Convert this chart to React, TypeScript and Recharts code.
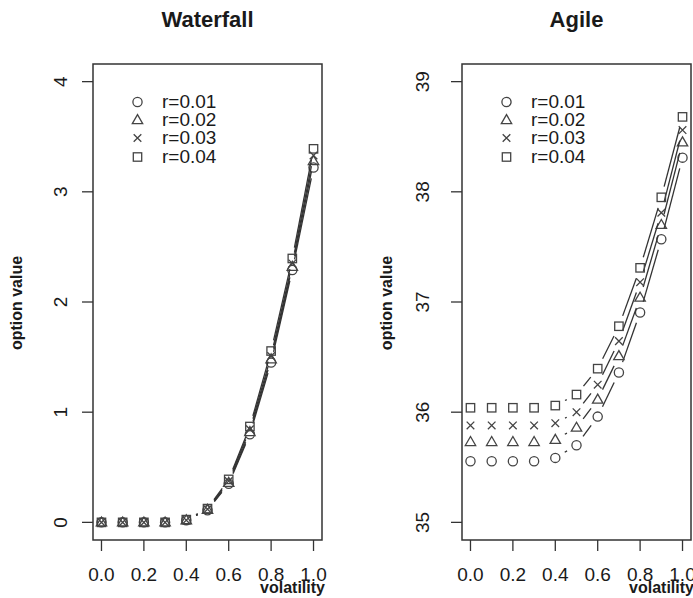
import React from "react";
import { LineChart, Line, XAxis, YAxis, ReferenceArea, Legend } from "recharts";

// volatility grid (x axis)
const volatility = [0, 0.1, 0.2, 0.3, 0.4, 0.5, 0.6, 0.7, 0.8, 0.9, 1.0];
const volTicks = [0, 0.2, 0.4, 0.6, 0.8, 1.0];
const rateLabels = ["r=0.01", "r=0.02", "r=0.03", "r=0.04"];

// Waterfall option values, one array per rate
const waterfallR1 = [0, 0, 0, 0, 0.02, 0.11, 0.35, 0.8, 1.45, 2.29, 3.22];
const waterfallR2 = [0, 0, 0, 0, 0.02, 0.115, 0.36, 0.82, 1.48, 2.32, 3.28];
const waterfallR3 = [0, 0, 0, 0, 0.02, 0.12, 0.375, 0.845, 1.51, 2.35, 3.33];
const waterfallR4 = [0, 0, 0, 0, 0.025, 0.125, 0.39, 0.87, 1.555, 2.395, 3.39];
const waterfallTicks = [0, 1, 2, 3, 4];

// Agile option values
const agileR1 = [35.555, 35.555, 35.555, 35.555, 35.585, 35.7, 35.96, 36.36, 36.905, 37.57, 38.31];
const agileR2 = [35.73, 35.73, 35.73, 35.73, 35.75, 35.86, 36.115, 36.51, 37.04, 37.7, 38.45];
const agileR3 = [35.88, 35.88, 35.88, 35.88, 35.9, 36.0, 36.25, 36.645, 37.18, 37.81, 38.56];
const agileR4 = [36.04, 36.04, 36.04, 36.04, 36.06, 36.16, 36.395, 36.78, 37.31, 37.95, 38.68];
const agileTicks = [35, 36, 37, 38, 39];

const INK = "#333";
const TEXT = "#1a1a1a";
const MARK = "#444";
const FONT = "'Liberation Sans', Arial, sans-serif";
const GAP = 11; // R type="b" leaves a gap round each point

type Shape = "circle" | "triangle" | "cross" | "square";
const shapes: Shape[] = ["circle", "triangle", "cross", "square"];
const keys = ["r1", "r2", "r3", "r4"];

const toRows = (series: number[][]) =>
  volatility.map((v, i) => ({ v, r1: series[0][i], r2: series[1][i], r3: series[2][i], r4: series[3][i] }));

const waterfallData = toRows([waterfallR1, waterfallR2, waterfallR3, waterfallR4]);
const agileData = toRows([agileR1, agileR2, agileR3, agileR4]);

function Symbol({ shape, cx, cy }: { shape: Shape; cx: number; cy: number }) {
  const common = { fill: "none", stroke: MARK, strokeWidth: 1.3 };
  if (shape === "circle") return <circle cx={cx} cy={cy} r={4.6} {...common} />;
  if (shape === "triangle")
    return <polygon points={`${cx},${cy - 5.4} ${cx - 5.2},${cy + 3.6} ${cx + 5.2},${cy + 3.6}`} {...common} />;
  if (shape === "cross")
    return (
      <path d={`M${cx - 3.8},${cy - 3.8}L${cx + 3.8},${cy + 3.8}M${cx - 3.8},${cy + 3.8}L${cx + 3.8},${cy - 3.8}`} {...common} />
    );
  return <rect x={cx - 4.2} y={cy - 4.2} width={8.4} height={8.4} {...common} />;
}

// dot renderer: symbol plus the gapped segment to the next point
const makeDot = (shape: Shape) => (props: any) => {
  const { cx, cy, index, points } = props;
  const next = points && points[index + 1];
  let seg = null;
  if (next) {
    const dx = next.x - cx;
    const dy = next.y - cy;
    const len = Math.hypot(dx, dy);
    if (len > 2 * GAP) {
      const ux = dx / len;
      const uy = dy / len;
      seg = (
        <line
          x1={cx + ux * GAP}
          y1={cy + uy * GAP}
          x2={next.x - ux * GAP}
          y2={next.y - uy * GAP}
          stroke={INK}
          strokeWidth={1.3}
        />
      );
    }
  }
  return (
    <g key={`dot-${shape}-${index}`}>
      {seg}
      <Symbol shape={shape} cx={cx} cy={cy} />
    </g>
  );
};

function YTick(props: any) {
  const { x, y, payload } = props;
  return (
    <text x={x} y={y} transform={`rotate(-90 ${x} ${y})`} textAnchor="middle" fontSize={19} fill={TEXT} fontFamily={FONT}>
      {payload.value}
    </text>
  );
}

function RateLegend() {
  return (
    <div style={{ fontFamily: FONT, fontSize: 19, color: TEXT }}>
      {rateLabels.map((label, i) => (
        <div key={label} style={{ display: "flex", alignItems: "center", height: 18.3 }}>
          <svg width={19} height={18}>
            <Symbol shape={shapes[i]} cx={9.5} cy={9} />
          </svg>
          <span style={{ marginLeft: 15, lineHeight: "18px" }}>{label}</span>
        </div>
      ))}
    </div>
  );
}

function Panel({
  left,
  width,
  marginLeft,
  marginRight,
  data,
  yDomain,
  yTicks,
  yTickMargin,
}: {
  left: number;
  width: number;
  marginLeft: number;
  marginRight: number;
  data: any[];
  yDomain: [number, number];
  yTicks: number[];
  yTickMargin: number;
}) {
  return (
    <div style={{ position: "absolute", left, top: 0 }}>
      <LineChart width={width} height={598} data={data} margin={{ top: 64, right: marginRight, bottom: 0, left: marginLeft }}>
        <XAxis
          dataKey="v"
          type="number"
          domain={[-0.04, 1.04]}
          allowDataOverflow
          ticks={volTicks}
          interval={0}
          tickFormatter={(v: number) => v.toFixed(1)}
          axisLine={false}
          tickSize={11}
          tickMargin={16.5}
          tickLine={{ stroke: INK, strokeWidth: 1.3 }}
          tick={{ fontSize: 19, fill: TEXT, fontFamily: FONT }}
          height={58}
        />
        <YAxis
          type="number"
          domain={yDomain}
          allowDataOverflow
          ticks={yTicks}
          interval={0}
          axisLine={false}
          tickSize={11}
          tickMargin={yTickMargin}
          tickLine={{ stroke: INK, strokeWidth: 1.3 }}
          tick={(p: any) => <YTick {...p} />}
          width={93}
        />
        <ReferenceArea
          x1={-0.04}
          x2={1.04}
          y1={yDomain[0]}
          y2={yDomain[1]}
          fill="none"
          fillOpacity={0}
          stroke={INK}
          strokeWidth={1.5}
          ifOverflow="visible"
        />
        {keys.map((k, i) => (
          <Line
            key={k}
            dataKey={k}
            stroke="none"
            dot={makeDot(shapes[i])}
            activeDot={false}
            isAnimationActive={false}
          />
        ))}
        <Legend
          layout="horizontal"
          verticalAlign="middle"
          align="center"
          content={() => <RateLegend />}
          wrapperStyle={{ left: marginLeft + 93 + 35, top: 92.5, width: 140, height: 80 }}
        />
      </LineChart>
    </div>
  );
}

export default function App() {
  return (
    <div style={{ position: "absolute", left: 0, top: 0, width: 693, height: 598, background: "#fff", fontFamily: FONT }}>
      <Panel
        left={0}
        width={346}
        marginLeft={0}
        marginRight={24}
        data={waterfallData}
        yDomain={[-0.16, 4.16]}
        yTicks={waterfallTicks}
        yTickMargin={15}
      />
      <Panel
        left={346}
        width={347}
        marginLeft={23}
        marginRight={2}
        data={agileData}
        yDomain={[34.84, 39.16]}
        yTicks={agileTicks}
        yTickMargin={22.3}
      />
      <svg width={693} height={598} style={{ position: "absolute", left: 0, top: 0, pointerEvents: "none" }}>
        <g fontFamily={FONT} fill={TEXT} fontWeight="bold">
          <text x={207.5} y={27} fontSize={22} textAnchor="middle">Waterfall</text>
          <text x={576.5} y={27} fontSize={22} textAnchor="middle">Agile</text>
          <text x={292.5} y={593} fontSize={16} textAnchor="middle">volatility</text>
          <text x={661.5} y={593} fontSize={16} textAnchor="middle">volatility</text>
          <text x={21.6} y={303} fontSize={16} textAnchor="middle" transform="rotate(-90 21.6 303)">option value</text>
          <text x={391.6} y={303} fontSize={16} textAnchor="middle" transform="rotate(-90 391.6 303)">option value</text>
        </g>
      </svg>
    </div>
  );
}
